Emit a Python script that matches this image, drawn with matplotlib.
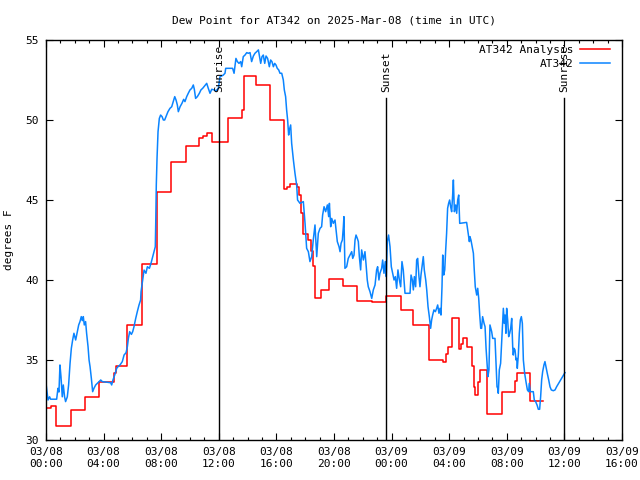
import matplotlib
matplotlib.use("Agg")
import matplotlib.pyplot as plt
import matplotlib.dates as mdates
import numpy as np

# hours after 2025-03-08 00:00 UTC
red_hours = [0.0, 0.35, 0.69, 1.72, 2.69, 3.68, 4.72, 4.86, 5.63, 6.65, 7.69, 8.66,
             9.70, 10.63, 10.9, 11.16, 11.55, 12.66, 13.59, 13.77, 14.56, 15.56,
             16.55, 16.72, 16.94, 17.41, 17.59, 17.71, 17.85, 18.19, 18.40, 18.54,
             18.68, 19.10, 19.65, 20.60, 21.58, 22.64, 23.61, 24.63, 25.51, 26.60,
             27.59, 27.78, 27.92, 28.22, 28.68, 28.82, 28.98, 29.26, 29.60, 29.72,
             29.79, 30.02, 30.14, 30.65, 31.65, 32.57, 32.69, 33.61, 34.49]
red_vals = [32.0, 32.1, 30.9, 31.9, 32.7, 33.6, 34.2, 34.6, 37.2, 41.0, 45.5, 47.4,
            48.4, 48.9, 49.0, 49.2, 48.6, 50.1, 50.6, 52.75, 52.2, 50.0,
            45.7, 45.8, 46.0, 45.8, 45.3, 44.2, 42.9, 42.5, 41.8, 40.9,
            38.85, 39.4, 40.05, 39.6, 38.7, 38.6, 39.0, 38.1, 37.2, 35.0,
            34.9, 35.4, 35.8, 37.6, 35.7, 36.0, 36.4, 35.8, 34.6, 33.3,
            32.8, 33.6, 34.4, 31.6, 33.0, 33.7, 34.2, 32.45, 32.45]

blue_hours = [0.0, 0.14, 0.25, 0.32, 0.74, 0.83, 0.90, 0.97, 1.04, 1.13, 1.20, 1.29,
              1.36, 1.48, 1.57, 1.67, 1.76, 1.85, 1.94, 2.06, 2.18, 2.27, 2.36, 2.45,
              2.52, 2.59, 2.66, 2.75, 2.82, 2.92, 2.99, 3.06, 3.15, 3.24, 3.33, 3.45,
              3.56, 3.68, 3.80, 3.91, 4.49, 4.56, 4.65, 4.77, 4.91, 5.0, 5.14, 5.30,
              5.42, 5.56, 5.65, 5.72, 5.81, 5.93, 6.02, 6.11, 6.23, 6.34, 6.46, 6.57,
              6.60, 6.71, 6.81, 6.94, 7.04, 7.18, 7.29, 7.41, 7.50, 7.59, 7.62, 7.66,
              7.71, 7.78, 7.87, 7.96, 8.06, 8.15, 8.24, 8.33, 8.47, 8.61, 8.73, 8.84,
              8.94, 9.03, 9.12, 9.19, 9.31, 9.44, 9.56, 9.65, 9.77, 9.88, 10.0, 10.12,
              10.23, 10.3, 10.39, 10.51, 10.65, 10.76, 10.88, 11.02, 11.16, 11.27, 11.39, 11.51,
              11.67, 11.81, 11.97, 12.08, 12.3, 12.43, 12.48, 12.96, 13.06, 13.19, 13.29, 13.40,
              13.52, 13.59, 13.70, 13.82, 13.94, 14.05, 14.17, 14.28, 14.4, 14.51, 14.63, 14.75,
              14.81, 14.91, 15.0, 15.09, 15.19, 15.28, 15.39, 15.51, 15.6, 15.69, 15.79, 15.88,
              15.97, 16.06, 16.16, 16.25, 16.37, 16.48, 16.55, 16.64, 16.71, 16.78, 16.85, 16.9,
              16.99, 17.06, 17.18, 17.29, 17.41, 17.47, 17.64, 17.87, 17.99, 18.10, 18.22, 18.33,
              18.45, 18.56, 18.68, 18.80, 18.91, 19.03, 19.14, 19.21, 19.31, 19.42, 19.54, 19.63,
              19.68, 19.77, 19.84, 19.95, 20.07, 20.14, 20.23, 20.35, 20.42, 20.49, 20.58, 20.65,
              20.69, 20.76, 20.88, 20.99, 21.11, 21.23, 21.30, 21.39, 21.46, 21.53, 21.62, 21.69,
              21.76, 21.85, 21.92, 22.04, 22.15, 22.22, 22.31, 22.38, 22.5, 22.62, 22.73, 22.85,
              22.96, 23.03, 23.12, 23.19, 23.31, 23.38, 23.47, 23.56, 23.63, 23.70, 23.79, 23.89,
              23.98, 24.07, 24.17, 24.26, 24.35, 24.44, 24.54, 24.63, 24.72, 24.81, 24.93, 25.28,
              25.35, 25.44, 25.51, 25.58, 25.67, 25.74, 25.81, 25.90, 25.97, 26.04, 26.11, 26.20,
              26.27, 26.37, 26.44, 26.53, 26.62, 26.71, 26.78, 26.85, 26.94, 27.04, 27.13, 27.2,
              27.29, 27.36, 27.43, 27.5, 27.55, 27.62, 27.69, 27.75, 27.82, 27.89, 27.96, 28.03,
              28.1, 28.17, 28.24, 28.29, 28.36, 28.45, 28.52, 28.59, 28.66, 28.73, 29.21, 29.33,
              29.40, 29.44, 29.51, 29.6, 29.68, 29.74, 29.81, 29.91, 29.98, 30.05, 30.12, 30.19,
              30.25, 30.32, 30.42, 30.49, 30.56, 30.63, 30.69, 30.76, 30.83, 30.95, 31.02, 31.18,
              31.25, 31.32, 31.37, 31.41, 31.48, 31.57, 31.67, 31.76, 31.83, 31.88, 31.94, 31.99,
              32.06, 32.13, 32.2, 32.27, 32.34, 32.41, 32.45, 32.5, 32.57, 32.64, 32.69, 32.73,
              32.8, 32.87, 32.94, 33.01, 33.08, 33.15, 33.24, 33.33, 33.43, 33.52, 33.56, 33.63,
              33.84, 33.91, 34.0, 34.1, 34.19, 34.28, 34.35, 34.42, 34.49, 34.58, 34.65, 34.72,
              34.81, 34.91, 35.0, 35.09, 35.23, 35.35, 35.46, 35.6, 35.74, 35.88, 36.04]
blue_vals = [33.54, 32.5, 32.7, 32.55, 32.55, 33.23, 33.0, 34.69, 33.96, 32.7, 33.44, 32.7,
             32.4, 32.7, 33.44, 34.79, 35.73, 36.25, 36.67, 36.25, 36.77, 37.19, 37.4, 37.71,
             37.46, 37.71, 37.19, 37.4, 36.67, 35.83, 35.0, 34.58, 33.85, 33.02, 33.23, 33.44,
             33.54, 33.65, 33.75, 33.65, 33.58, 33.44, 33.75, 34.06, 34.48, 34.58, 34.69, 34.9,
             35.31, 35.46, 35.83, 36.35, 36.77, 36.6, 36.77, 37.08, 37.6, 38.02, 38.44, 38.75,
             39.27, 40.0, 40.62, 40.42, 40.83, 40.73, 41.04, 41.46, 41.77, 42.08, 43.54, 45.94,
             47.6, 49.27, 50.1, 50.31, 50.21, 50.0, 50.0, 50.21, 50.52, 50.73, 50.83, 51.15,
             51.46, 51.25, 50.94, 50.52, 50.83, 51.04, 51.29, 51.15, 51.46, 51.67, 51.88, 51.98,
             52.19, 51.92, 51.35, 51.46, 51.67, 51.88, 51.98, 52.13, 52.29, 51.98, 51.67, 51.92,
             51.88, 51.83, 51.98, 52.7, 52.8, 52.92, 53.23, 53.23, 52.92, 53.85, 53.65, 53.54,
             53.65, 53.33, 53.96, 54.06, 54.21, 54.17, 54.21, 53.65, 54.0, 54.17, 54.27, 54.38,
             54.06, 53.54, 53.96, 54.06, 53.54, 54.0, 53.85, 53.33, 53.75, 53.65, 53.33, 53.54,
             53.44, 53.23, 53.13, 52.92, 52.92, 52.5, 51.88, 51.46, 50.63, 50.0, 49.06, 49.38,
             49.69, 48.54, 47.5, 46.67, 45.9, 45.0, 44.79, 44.9, 43.54, 41.98, 41.77, 41.15,
             41.46, 42.5, 43.44, 41.46, 42.92, 43.23, 43.33, 44.06, 44.58, 44.27, 44.69, 43.96,
             44.79, 43.33, 43.85, 43.54, 43.75, 43.13, 42.4, 42.08, 41.77, 42.29, 42.5, 43.33,
             43.96, 40.73, 40.83, 41.35, 41.56, 41.77, 41.35, 41.56, 42.5, 42.81, 42.6, 42.4,
             41.46, 40.63, 41.88, 41.25, 41.77, 41.04, 40.0, 39.58, 39.27, 38.85, 39.38, 39.69,
             40.63, 40.83, 40.0, 40.42, 40.73, 41.25, 40.42, 41.15, 40.21, 42.4, 42.81, 42.08,
             40.83, 40.42, 40.0, 40.21, 39.48, 40.63, 40.0, 39.58, 41.15, 40.63, 39.17, 39.17,
             40.31, 40.0, 39.38, 40.21, 39.58, 41.25, 41.35, 40.21, 39.58, 40.31, 40.83, 41.46,
             40.63, 40.0, 39.38, 38.33, 37.71, 36.98, 37.5, 37.81, 38.13, 38.02, 38.23, 38.44,
             37.92, 38.23, 37.81, 39.58, 41.56, 40.31, 40.63, 41.77, 42.92, 44.48, 44.79, 45.0,
             44.58, 44.27, 45.31, 46.25, 44.27, 44.69, 44.17, 45.0, 45.31, 43.54, 43.6, 42.81,
             42.4, 42.71, 42.5, 42.08, 41.67, 40.63, 39.58, 39.06, 39.48, 38.85, 37.81, 36.98,
             36.98, 37.71, 37.29, 37.08, 35.73, 34.79, 33.96, 34.38, 37.19, 36.77, 36.35, 36.35,
             34.9, 33.33, 33.23, 32.92, 34.38, 34.79, 36.67, 38.23, 37.29, 37.81, 36.67, 38.23,
             37.5, 36.46, 36.67, 36.98, 37.6, 35.83, 35.31, 35.73, 35.63, 35.0, 35.1, 34.48,
             35.31, 36.67, 37.5, 37.71, 37.29, 35.0, 34.17, 33.65, 33.13, 33.02, 33.54, 33.02,
             33.02, 32.5, 32.4, 32.19, 31.92, 31.92, 32.71, 33.75, 34.27, 34.69, 34.9, 34.58,
             34.17, 33.75, 33.33, 33.13, 33.08, 33.13, 33.33, 33.54, 33.75, 33.96, 34.21]

sun_hours = [12.0, 23.61, 35.97]
sun_labels = ["Sunrise", "Sunset", "Sunrise"]

start = np.datetime64("2025-03-08T00:00")


def to_time(hours):
    return start + (np.array(hours) * 3600).astype("timedelta64[s]")


plt.rcParams['font.family'] = 'DejaVu Sans Mono'
fig = plt.figure(figsize=(6.4, 4.8), dpi=100)
ax = fig.add_axes([46/640, 40/480, 576/640, 400/480])

ax.plot(to_time(red_hours), red_vals, color='#ff0000', lw=1.1,
        drawstyle='steps-post', label='AT342 Analysis')
ax.plot(to_time(blue_hours), blue_vals, color='#0a84ff', lw=1.1, label='AT342')

for h, lab in zip(sun_hours, sun_labels):
    t = to_time([h])[0]
    ax.plot([t, t], [30, 51.4], color='black', lw=1.0)
    ax.text(t, 51.75, lab, rotation=90, ha='center', va='bottom', fontsize=8)

ax.set_xlim(to_time([0])[0], to_time([40])[0])
ax.set_ylim(30, 55)
ax.set_yticks([30, 35, 40, 45, 50, 55])
ax.xaxis.set_major_locator(mdates.HourLocator(byhour=range(0, 24, 4)))
ax.xaxis.set_minor_locator(mdates.HourLocator())
ax.xaxis.set_major_formatter(mdates.DateFormatter('%m/%d\n%H:%M'))

ax.tick_params(which='both', direction='in', top=True, right=True, labelsize=8)
ax.tick_params(which='major', length=5, width=0.8)
ax.tick_params(which='minor', length=2.5, width=0.8)
ax.tick_params(axis='x', pad=5)
ax.tick_params(axis='y', pad=5)
for s in ax.spines.values():
    s.set_linewidth(1.0)

ax.set_ylabel('degrees F', fontsize=8, labelpad=8)
ax.set_title('Dew Point for AT342 on 2025-Mar-08 (time in UTC)', fontsize=8, pad=12)
ax.legend(loc='upper right', bbox_to_anchor=(1 - 4/576, 1 + 3/400),
          frameon=False, markerfirst=False, fontsize=8,
          handlelength=2.7, handletextpad=0.6, labelspacing=0.35,
          borderaxespad=0.3)

fig.savefig('out.png', dpi=100)
